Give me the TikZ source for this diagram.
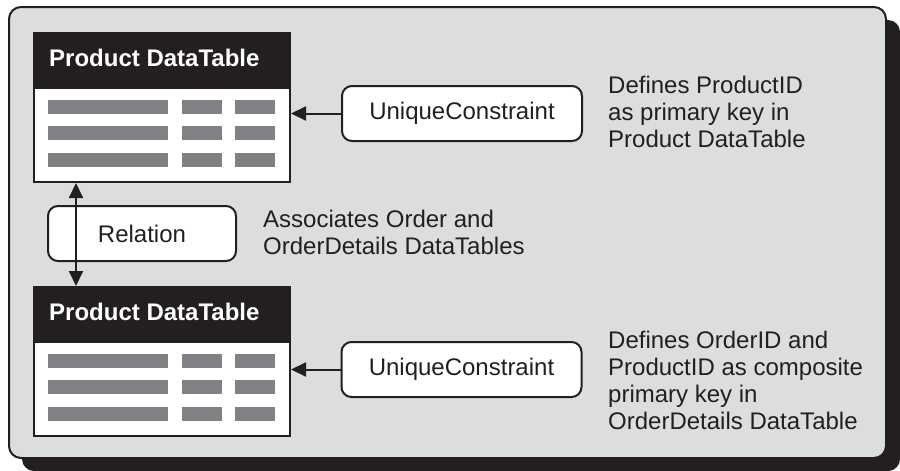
\documentclass[tikz,border=0pt]{standalone}
\usepackage{fontspec}
\setmainfont{Liberation Sans}
\usetikzlibrary{arrows.meta,calc}
\definecolor{panelgray}{HTML}{DCDDDE}
\definecolor{bargray}{HTML}{808184}
\definecolor{ink}{HTML}{231F20}
\begin{document}
\begin{tikzpicture}[x=1pt,y=-1pt,
  font=\fontsize{24}{27}\selectfont,
  tblhead/.style={fill=ink, draw=ink, line width=2pt, minimum width=256pt, minimum height=55pt, inner sep=0pt, anchor=north west},
  tblbody/.style={fill=white, draw=ink, line width=2pt, minimum width=256pt, minimum height=94pt, inner sep=0pt, anchor=north west},
  headtxt/.style={anchor=west, inner sep=0pt, text=white, font=\fontsize{24}{27}\selectfont\bfseries},
  cbox/.style={draw=ink, fill=white, line width=2pt, rounded corners=10pt, inner sep=0pt, minimum height=55pt, text=ink},
  note/.style={anchor=north west, align=left, inner sep=0pt, text=ink},
  link/.style={draw=ink, line width=2pt, -{Triangle[length=15pt,width=14pt]}},
  duallink/.style={draw=ink, line width=2pt, {Triangle[length=15pt,width=14pt]}-{Triangle[length=15pt,width=14pt]}},
  bar/.style={fill=bargray}
]
\useasboundingbox (0,0) rectangle (900,471);
% shadow and panel
\fill[ink, rounded corners=12pt] (22,20) rectangle (900,471);
\draw[fill=panelgray, draw=ink, line width=2pt, rounded corners=12pt] (9,7) rectangle (886,458);

% table 1
\node[tblhead] (h1) at (33,32) {};
\node[tblbody] (b1) at (33,87) {};
\node[headtxt] (h1t) at (49,58) {Product DataTable};
% table 2
\node[tblhead] (h2) at (33,286) {};
\node[tblbody] (b2) at (33,341) {};
\node[headtxt] (h2t) at (49,312) {Product DataTable};

\foreach \t in {b1,b2}{
  \foreach \r in {13,39,66}{
    \fill[bar] ($(\t.north west)+(15,\r)$) rectangle +(120,14);
    \fill[bar] ($(\t.north west)+(149,\r)$) rectangle +(40,14);
    \fill[bar] ($(\t.north west)+(202,\r)$) rectangle +(40,14);
  }
}

% boxes
\node[cbox, minimum width=188pt] (rel) at (142,233.5) {Relation};
\node[cbox, minimum width=240pt] (uc1) at (462,113.5) {UniqueConstraint};
\node[cbox, minimum width=240pt] (uc2) at (461.5,369.5) {UniqueConstraint};

% connectors
\draw[link] (uc1.west) -- (uc1.west -| b1.east);
\draw[link] (uc2.west) -- (uc2.west -| b2.east);
\draw[duallink] ($(b1.south west)+(43,0)$) -- ($(h2.north west)+(43,0)$);

% notes
\node[note] (n1) at (608,75.5) {Defines ProductID\\as primary key in\\Product DataTable};
\node[note] (n2) at (263,209.5) {Associates Order and\\OrderDetails DataTables};
\node[note] (n3) at (608,330.5) {Defines OrderID and\\ProductID as composite\\primary key in\\OrderDetails DataTable};
\end{tikzpicture}
\end{document}
